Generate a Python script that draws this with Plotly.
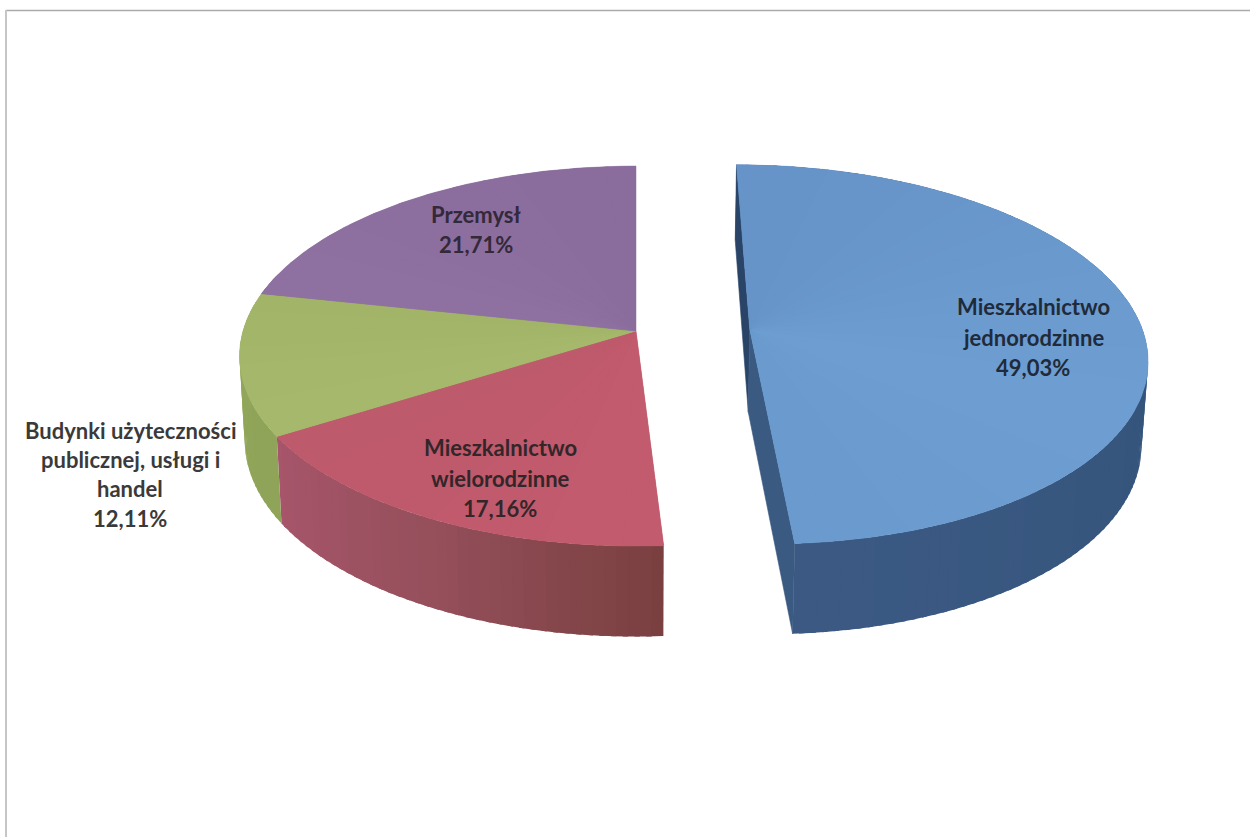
import numpy as np
import plotly.graph_objects as go

# ---- data -----------------------------------------------------------------
categories = ["Mieszkalnictwo jednorodzinne", "Mieszkalnictwo wielorodzinne",
              "Budynki użyteczności publicznej, usługi i handel", "Przemysł"]
shares = [49.03, 17.16, 12.11, 21.71]
label_lines = [["Mieszkalnictwo", "jednorodzinne"],
               ["Mieszkalnictwo", "wielorodzinne"],
               ["Budynki użyteczności", "publicznej, usługi i", "handel"],
               ["Przemysł"]]
explode = [0.29, 0, 0, 0]

# ---- styles ---------------------------------------------------------------
top_colors = [["#6693c8", "#6a99cd", "#6f9fd2", "#6a9ace"],
              ["#c25c6e", "#c05a6c", "#bd5a6c"],
              ["#a7b96d", "#a4b76a", "#a2b468"],
              ["#8f72a2", "#8c6e9f", "#8a6c9d"]]
side_colors = [["#2d4a6e", "#34547a", "#3c5a84"],
               ["#7a4040", "#96505c", "#a8566b"],
               ["#8fa458", "#93a85c"],
               ["#6d5580", "#6d5580"]]
wall_colors = ["#2a4468", "#3a5a82"]
label_pos = [(1033, [306, 337, 367]), (500, [447, 478, 508]),
             (130, [430, 459, 488, 518]), (476, [214, 244])]
TEXT = ["#1f2b3a", "#33262a", "#3a3a3a", "#33293a"]
FONT = "Lato"
FSIZE = 22

# ---- oblique perspective projection of the pie ----------------------------
CX, CY, A, B, K, F = 636, 331, 393, 186.7, 0.132, 0.987


def project(u, v, low=False):
    u, v = np.asarray(u, float), np.asarray(v, float)
    s = 1 / (1 + K * v)
    x, y = CX + A * u * s, CY - B * v * s
    if low:
        x = CX + (x - CX) * F
        y = y + (83 - 7.5 * v)
    return x, y


def mix(stops, t):
    c = np.array([[int(h[i:i + 2], 16) for i in (1, 3, 5)] for h in stops], float)
    p = t * (len(stops) - 1)
    i = min(int(p), len(stops) - 2)
    r = c[i] + (c[i + 1] - c[i]) * (p - i)
    return "rgb(%d,%d,%d)" % tuple(r)


fig = go.Figure()


def poly(x, y, color, lw=0.6):
    fig.add_trace(go.Scatter(x=list(x), y=list(y), mode="lines", fill="toself",
                             fillcolor=color, line=dict(color=color, width=lw),
                             hoverinfo="skip", showlegend=False))


fracs = np.cumsum([0] + shares) / sum(shares) * 2 * np.pi
slices = []
for i in range(len(shares)):
    t0, t1 = fracs[i], fracs[i + 1]
    mid = (t0 + t1) / 2
    slices.append((t0, t1, explode[i] * np.sin(mid), explode[i] * np.cos(mid)))

# outer side walls (back parts of the un-exploded pie are hidden)
for i, (t0, t1, u0, v0) in enumerate(slices):
    n = max(4, int((t1 - t0) / np.radians(1.5)))
    e = np.linspace(t0, t1, n + 1)
    for j in range(n):
        if explode[i] == 0 and np.cos(e[j]) > 0.3:
            continue
        th = np.array([e[j], min(e[j + 1] + 0.012, t1)])
        xa, ya = project(u0 + np.sin(th), v0 + np.cos(th))
        xb, yb = project(u0 + np.sin(th), v0 + np.cos(th), low=True)
        poly([xa[0], xa[1], xb[1], xb[0], xa[0]], [ya[0], ya[1], yb[1], yb[0], ya[0]],
             mix(side_colors[i], (j + 0.5) / n), lw=0)

# inner walls of exploded slices
for i, (t0, t1, u0, v0) in enumerate(slices):
    if explode[i] == 0:
        continue
    for k, th in enumerate((t0, t1)):
        us, vs = np.array([u0 + np.sin(th), u0]), np.array([v0 + np.cos(th), v0])
        xa, ya = project(us, vs)
        xb, yb = project(us, vs, low=True)
        poly([xa[0], xa[1], xb[1], xb[0], xa[0]], [ya[0], ya[1], yb[1], yb[0], ya[0]],
             wall_colors[k])

# top faces: a flat base, then soft angular shading with no outlines
for i, (t0, t1, u0, v0) in enumerate(slices):
    th = np.linspace(t0, t1, 120)
    x, y = project(np.r_[u0, u0 + np.sin(th), u0], np.r_[v0, v0 + np.cos(th), v0])
    poly(x, y, mix(top_colors[i], 0.5), lw=0.5)
    n = max(4, int((t1 - t0) / np.radians(5)))
    e = np.linspace(t0, t1, n + 1)
    for j in range(n):
        th = np.linspace(e[j], min(e[j + 1] + 0.012, t1), 6)
        x, y = project(np.r_[u0, u0 + np.sin(th), u0], np.r_[v0, v0 + np.cos(th), v0])
        poly(x, y, mix(top_colors[i], (j + 0.5) / n), lw=0)

# labels
annotations = []
for i, lines in enumerate(label_lines):
    xc, ys = label_pos[i]
    txt = lines + [f"{shares[i]:.2f}%".replace(".", ",")]
    for line, yy in zip(txt, ys):
        annotations.append(dict(x=xc, y=yy, xref="x", yref="y", text=f"<b>{line}</b>",
                                showarrow=False, xanchor="center", yanchor="middle",
                                font=dict(family=FONT, size=FSIZE, color=TEXT[i])))

fig.update_layout(
    width=1250, height=837, autosize=False,
    margin=dict(l=0, r=0, t=0, b=0),
    paper_bgcolor="white", plot_bgcolor="white", showlegend=False,
    xaxis=dict(range=[0, 1250], visible=False, fixedrange=True),
    yaxis=dict(range=[837, 0], visible=False, fixedrange=True),
    annotations=annotations,
    shapes=[
        dict(type="line", xref="x", yref="y", x0=6, x1=1250, y0=10.5, y1=10.5,
             line=dict(color="#aaaaaa", width=1.5), layer="below"),
        dict(type="line", xref="x", yref="y", x0=6, x1=6, y0=10, y1=837,
             line=dict(color="#c6c6c6", width=2), layer="below"),
    ],
)
fig.write_html("out.html", config={"displayModeBar": False},
               post_script="document.body.style.margin='0';document.body.style.overflow='hidden';")
